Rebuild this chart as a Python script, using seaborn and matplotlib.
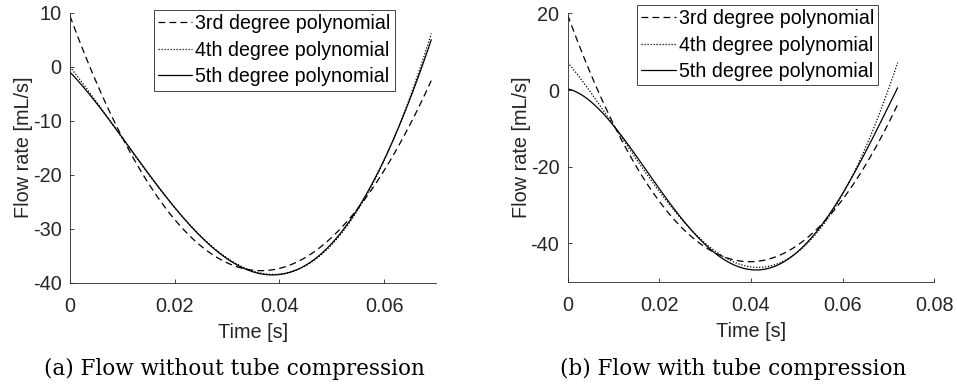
import matplotlib
matplotlib.use("Agg")
import matplotlib.pyplot as plt
import pandas as pd
import seaborn as sns

# ---- data: flow-rate samples (time in s, flow in mL/s) per fitted model ----
t_a = [0.0, 0.005, 0.010, 0.015, 0.020, 0.025, 0.030, 0.035,
       0.040, 0.045, 0.050, 0.055, 0.060, 0.065, 0.069]
a_poly3 = [9.4, -2.8, -13.1, -21.6, -28.3, -33.2, -36.3, -37.7,
           -37.4, -35.3, -31.6, -26.2, -19.2, -10.6, -2.6]
a_poly4 = [0.0, -6.5, -13.3, -19.8, -26.0, -31.3, -35.5, -38.2,
           -38.6, -36.5, -32.6, -26.6, -17.6, -5.6, 6.3]
a_poly5 = [-1.0, -6.6, -13.3, -19.8, -26.0, -31.3, -35.5, -38.3,
           -38.7, -36.5, -32.5, -26.4, -17.3, -5.8, 5.0]

t_b = [0.0, 0.005, 0.010, 0.015, 0.020, 0.025, 0.030, 0.035,
       0.040, 0.045, 0.050, 0.055, 0.060, 0.065, 0.070, 0.072]
b_poly3 = [19.6, 4.2, -8.9, -20.0, -29.0, -36.0, -40.9, -43.9,
           -44.8, -43.7, -40.7, -35.6, -28.4, -19.4, -8.6, -3.9]
b_poly4 = [7.2, -0.7, -8.8, -18.2, -26.8, -34.0, -40.0, -43.8,
           -45.6, -45.5, -42.9, -37.7, -26.0, -14.5, -0.5, 7.4]
b_poly5 = [0.0, -2.3, -9.5, -17.4, -25.9, -33.8, -40.6, -44.4,
           -46.2, -45.9, -43.0, -37.0, -25.8, -16.0, -4.5, 0.6]

poly_orders = [3, 4, 5]
series_labels = ["3rd degree polynomial", "4th degree polynomial",
                 "5th degree polynomial"]
captions = ["(a) Flow without tube compression",
            "(b) Flow with tube compression"]

a_xticks = [0, 0.02, 0.04, 0.06]
a_yticks = [-40, -30, -20, -10, 0, 10]
b_xticks = [0, 0.02, 0.04, 0.06, 0.08]
b_yticks = [-40, -20, 0, 20]

# ---- style ----
sns.set_theme(style="ticks")
plt.rcParams["font.family"] = ["Liberation Sans", "DejaVu Sans"]
axis_col = "#262626"
plt.rcParams.update({
    "axes.edgecolor": axis_col,
    "axes.linewidth": 0.6,
    "xtick.color": axis_col,
    "ytick.color": axis_col,
    "axes.labelcolor": axis_col,
    "text.color": axis_col,
})
FS = 14.3

line_styles = [(0, (5.4, 3.4)), (0, (1.0, 1.4)), "-"]

fig = plt.figure(figsize=(9.57, 3.85), dpi=100)
ax_a = fig.add_axes([0.0731, 0.2657, 0.3830, 0.7013])
ax_b = fig.add_axes([0.5932, 0.2682, 0.3831, 0.6972])


def draw(ax, t, curves):
    for vals, order, lab, ls in zip(curves, poly_orders, series_labels,
                                    line_styles):
        df = pd.DataFrame({"t": t, "v": vals})
        sns.regplot(data=df, x="t", y="v", ax=ax, order=order, ci=None,
                    scatter=False, truncate=True, color="black", label=lab,
                    line_kws={"linewidth": 0.9, "linestyle": ls})


def format_axes(ax, xlim, ylim, xticks, yticks):
    ax.set_xlim(*xlim)
    ax.set_ylim(*ylim)
    ax.set_xticks(xticks)
    ax.set_yticks(yticks)
    ax.set_xticklabels([("%g" % v) for v in xticks])
    ax.set_yticklabels([("%g" % v) for v in yticks])
    for side in ("top", "right"):
        ax.spines[side].set_visible(False)
    ax.tick_params(axis="both", direction="in", length=3.2, width=0.6,
                   labelsize=FS)
    ax.tick_params(axis="x", pad=10)
    ax.tick_params(axis="y", pad=6)
    ax.set_xlabel("Time [s]", fontsize=FS, labelpad=5)
    ax.set_ylabel("Flow rate [mL/s]", fontsize=FS, labelpad=0)


draw(ax_a, t_a, [a_poly3, a_poly4, a_poly5])
draw(ax_b, t_b, [b_poly3, b_poly4, b_poly5])
format_axes(ax_a, (0, 0.07), (-40, 10), a_xticks, a_yticks)
format_axes(ax_b, (0, 0.08), (-50, 20), b_xticks, b_yticks)

for ax, anchor in ((ax_a, (0.229, 1.010)), (ax_b, (0.189, 1.031))):
    leg = ax.legend(loc="upper left", bbox_to_anchor=anchor,
                    borderaxespad=0, fontsize=14.1, frameon=True,
                    fancybox=False, shadow=False, framealpha=1,
                    handlelength=1.75, handletextpad=0.15,
                    borderpad=0.22, labelspacing=0.38)
    frame = leg.get_frame()
    frame.set_edgecolor(axis_col)
    frame.set_linewidth(0.6)
    for txt in leg.get_texts():
        txt.set_color("black")

# sub-figure captions
for x, cap in zip((0.2445, 0.766), captions):
    fig.text(x, 0.026, cap, ha="center", va="baseline", fontsize=15.5,
             family=["DejaVu Serif"], color="black")

fig.savefig("out.png", dpi=100)
